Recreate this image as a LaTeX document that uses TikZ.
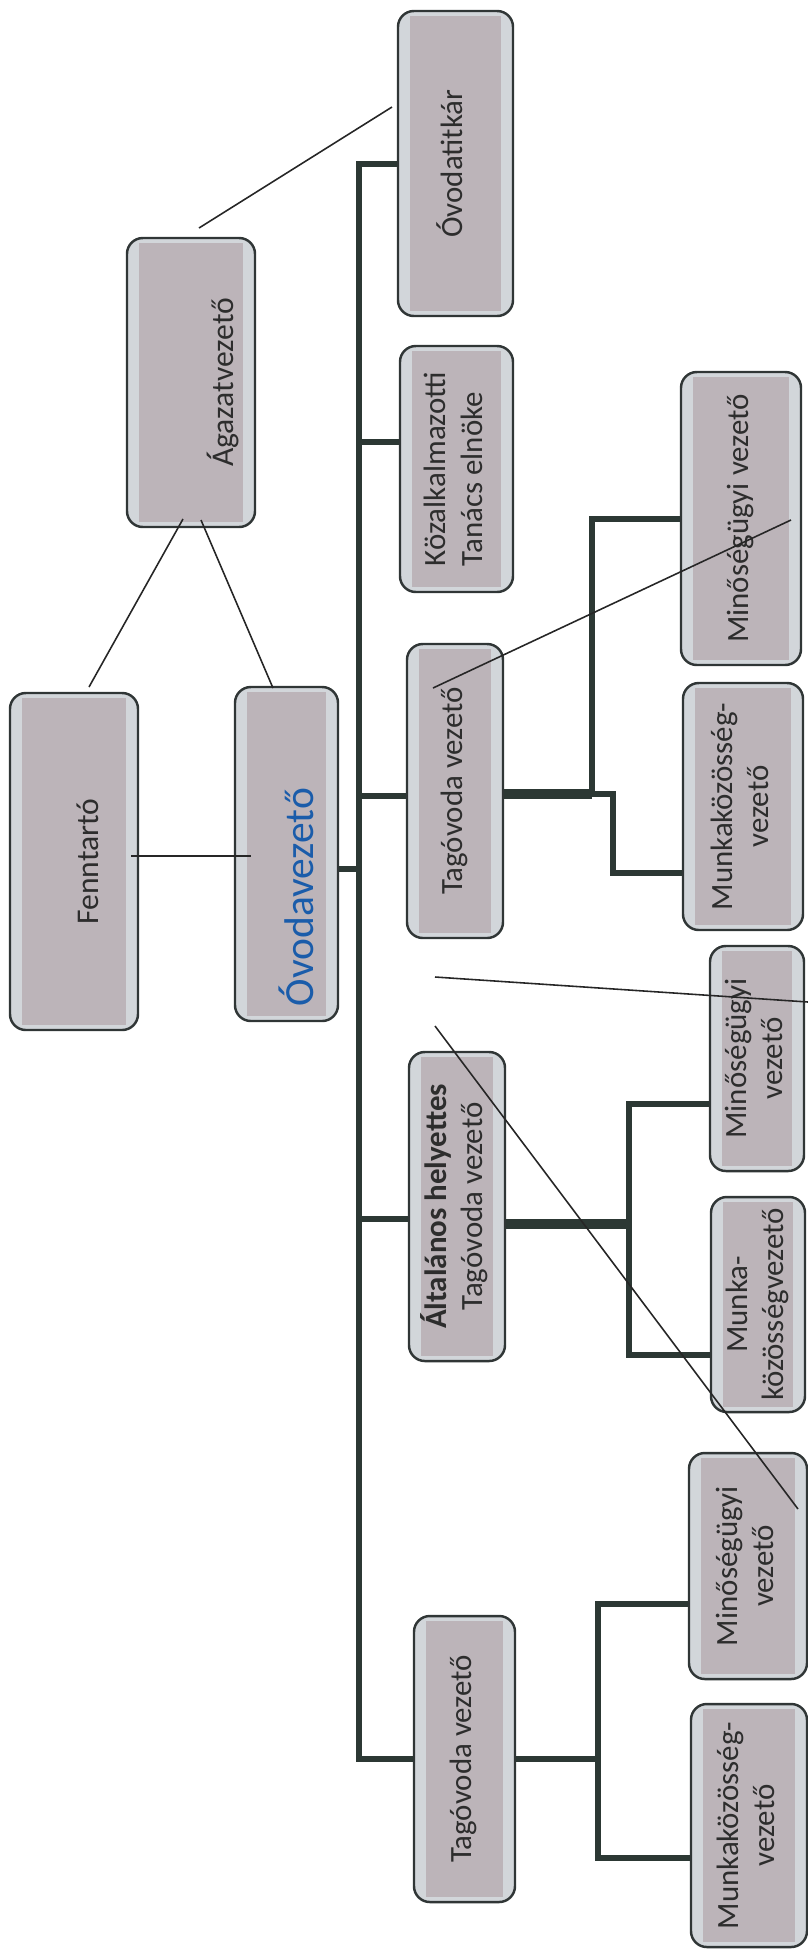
\documentclass[tikz,border=0pt]{standalone}
\usepackage{fontspec}
\setmainfont{Carlito}
\usepackage{graphicx}
\definecolor{boxfill}{RGB}{188,180,185}
\definecolor{boxedge}{RGB}{210,214,218}
\definecolor{boxline}{RGB}{48,54,54}
\definecolor{linecol}{RGB}{44,56,52}
\definecolor{txtcol}{RGB}{45,45,45}
\definecolor{vezblue}{RGB}{26,92,170}
\newcommand{\vt}[1]{\rotatebox{90}{\begin{tabular}{@{}c@{}}#1\end{tabular}}}
\tikzset{
  box/.style={draw=boxline, line width=0.7pt, fill=boxedge, rounded corners=4.5pt, inner sep=0pt,
    text=txtcol, font=\fontsize{8.8}{10.4}\selectfont,
    path picture={\fill[boxfill, sharp corners]([xshift=1.2mm,yshift=0.5mm]path picture bounding box.south west)
      rectangle([xshift=-1.2mm,yshift=-0.5mm]path picture bounding box.north east);}},
  conn/.style={draw=linecol, line width=1.7pt},
  heavy/.style={draw=linecol, line width=2.8pt},
  pen/.style={draw=black!85, line width=0.45pt}
}
\begin{document}
\begin{tikzpicture}
\useasboundingbox (0,0) rectangle (8.08,-19.5);
% boxes with centred text
\foreach \n/\x/\y/\w/\h/\lbl in {
  titkar/4.555/-1.635/1.15/3.05/{Óvodatitkár},
  minoseg1/7.41/-5.185/1.20/2.93/{Minőségügyi vezető},
  tag1/4.55/-7.91/0.96/2.94/{Tagóvoda vezető},
  munka1/7.43/-8.065/1.20/2.47/{Munkaközösség-\\vezető},
  minoseg2/7.57/-10.585/0.94/2.25/{Minőségügyi\\vezető},
  altalanos/4.57/-12.065/0.96/3.09/{\textbf{Általános helyettes}\\Tagóvoda vezető},
  munka2/7.58/-13.045/0.94/2.15/{Munka-\\közösségvezető},
  minoseg3/7.48/-15.66/1.18/2.26/{Minőségügyi\\vezető},
  tag3/4.645/-17.59/1.01/2.86/{Tagóvoda vezető},
  munka3/7.49/-18.255/1.16/2.43/{Munkaközösség-\\vezető}}
  \node[box, minimum width=\w cm, minimum height=\h cm] (\n) at (\x,\y) {\vt{\lbl}};
\node[box, minimum width=1.13cm, minimum height=2.46cm] (kozalk) at (4.565,-4.69)
  {\rotatebox{90}{\begin{tabular}{@{}l@{}}Közalkalmazotti\\Tanács elnöke\end{tabular}}};
% boxes with shifted text
\node[box, minimum width=1.28cm, minimum height=2.89cm] (agazat) at (1.91,-3.825) {};
\node[box, minimum width=1.28cm, minimum height=3.37cm] (fenntarto) at (0.74,-8.615) {};
\node[box, minimum width=1.03cm, minimum height=3.34cm] (ovodavez) at (2.865,-8.54) {};
\node[rotate=90, text=txtcol, font=\fontsize{9}{10}\selectfont] (agazat-t) at ([xshift=3.2mm]agazat.center) {Ágazatvezető};
\node[rotate=90, text=txtcol, font=\fontsize{9}{10}\selectfont] (fenntarto-t) at ([xshift=1.4mm]fenntarto.center) {Fenntartó};
\node[rotate=90, text=vezblue, font=\fontsize{11.8}{13}\selectfont] (ovodavez-t) at (2.96,-8.97) {Óvodavezető};

% main trunk
\coordinate (trunk) at (3.59,0);
\draw[conn] (titkar.west) -| (trunk |- tag3.west) -- (tag3.west);
\coordinate (k0) at ([yshift=2.7mm]kozalk.west);
\coordinate (t0) at ([yshift=-0.5mm]tag1.west);
\coordinate (o0) at ([yshift=-1.5mm]ovodavez.east);
\coordinate (a1) at ([yshift=-1.25mm]altalanos.west);
\foreach \c in {k0,t0,o0,a1}
  \draw[conn] (\c) -- (\c -| trunk);

% first member kindergarten
\coordinate (t1) at ([yshift=-0.3mm]tag1.east);
\coordinate (j1) at (5.92,-7.94);
\coordinate (j1b) at (6.13,0);
\coordinate (m1) at ([yshift=-6.65mm]munka1.west);
\draw[heavy] (t1) -- (t1 -| j1);
\draw[conn] (minoseg1.west) -| (j1) -- (j1 -| j1b) |- (m1);

% general deputy
\coordinate (a0) at ([yshift=-1.75mm]altalanos.east);
\coordinate (j2) at (6.29,0);
\coordinate (m2a) at ([yshift=-4.55mm]minoseg2.west);
\coordinate (m2b) at ([yshift=-5.05mm]munka2.west);
\draw[heavy] (a0) -- (a0 -| j2);
\draw[conn] (m2a) -| (j2 |- m2b) -- (m2b);

% last member kindergarten
\coordinate (j3) at (5.98,0);
\coordinate (m3a) at ([yshift=-3.8mm]minoseg3.west);
\coordinate (m3b) at ([yshift=-3.25mm]munka3.west);
\draw[conn] (tag3.east) -- (tag3.east -| j3);
\draw[conn] (m3a) -| (j3 |- m3b) -- (m3b);

% thin hand lines
\coordinate (p1) at (1.99,-2.28);  \coordinate (p2) at (3.92,-1.07);
\coordinate (p3) at (1.83,-5.19);  \coordinate (p4) at (0.89,-6.87);
\coordinate (p5) at (2.01,-5.20);  \coordinate (p6) at (2.73,-6.88);
\coordinate (p7) at (1.31,-8.56);  \coordinate (p8) at (2.51,-8.56);
\coordinate (p9) at (4.33,-6.88);  \coordinate (p10) at (7.91,-5.20);
\coordinate (p11) at (4.35,-9.77); \coordinate (p12) at (8.08,-10.02);
\coordinate (p13) at (4.35,-10.26); \coordinate (p14) at (7.98,-15.09);
\foreach \a/\b in {p1/p2,p3/p4,p5/p6,p7/p8,p9/p10,p11/p12,p13/p14}
  \draw[pen] (\a) -- (\b);
\end{tikzpicture}
\end{document}
